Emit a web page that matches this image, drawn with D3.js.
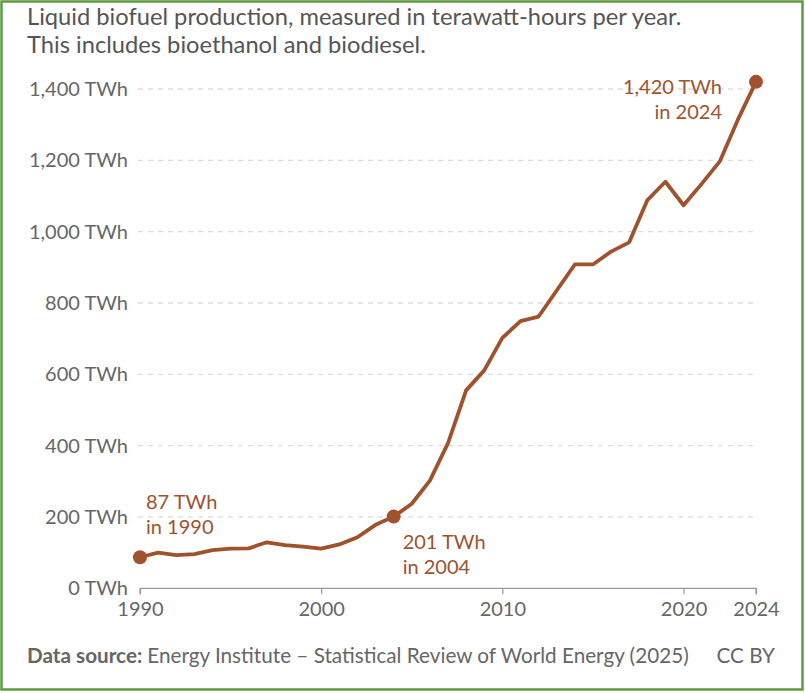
<!DOCTYPE html>
<html><head><meta charset="utf-8">
<script src="https://cdn.jsdelivr.net/npm/d3@7"></script>
<style>
html,body{margin:0;padding:0;background:#fff;}
svg{display:block;font-family:Lato,"Noto Sans",sans-serif;}
</style></head>
<body>
<script>
const years = d3.range(1990, 2025);
const values = [87,100,93,96,107,111,112,129,121,117,111,123,143,178,201,237,302,407,555,611,702,749,762,835,908,908,944,970,1088,1140,1074,1134,1197,1314,1420];
const yTicks = [0,200,400,600,800,1000,1200,1400];
const xTicks = [1990,2000,2010,2020,2024];
const titleLines = ["Liquid biofuel production, measured in terawatt-hours per year.","This includes bioethanol and biodiesel."];
const annotations = [
  {year:1990, lines:["87 TWh","in 1990"]},
  {year:2004, lines:["201 TWh","in 2004"]},
  {year:2024, lines:["1,420 TWh","in 2024"]}
];

const W=805,H=693;
const color="#a0522d";
const svg=d3.select("body").append("svg").attr("width",W).attr("height",H);
svg.append("rect").attr("x",1.5).attr("y",1.5).attr("width",W-4).attr("height",H-5)
  .attr("fill","#fff").attr("stroke","#5e9a42").attr("stroke-width",2.5);

const x=d3.scaleLinear().domain([1990,2024]).range([140,756]);
const y=d3.scaleLinear().domain([0,1400]).range([588.3,89]);

svg.append("g").selectAll("text").data(titleLines).join("text")
  .attr("x",27).attr("y",(d,i)=>25+i*27.5).attr("font-size",23.7).attr("fill","#555").text(d=>d);

// grid
svg.append("g").selectAll("line").data(yTicks.filter(d=>d>0)).join("line")
  .attr("x1",138).attr("x2",758).attr("y1",d=>y(d)).attr("y2",d=>y(d))
  .attr("stroke","#ddd").attr("stroke-width",1.3).attr("stroke-dasharray","5,5");

// y labels
svg.append("g").selectAll("text").data(yTicks).join("text")
  .attr("x",128).attr("y",d=>y(d)+7).attr("text-anchor","end")
  .attr("font-size",20).attr("fill","#666").text(d=>d3.format(",")(d)+" TWh");

// x axis
const xa=svg.append("g").attr("transform",`translate(0,${y(0)})`)
  .call(d3.axisBottom(x).tickValues(xTicks).tickFormat(d3.format("d")).tickSize(6).tickPadding(8));
xa.select(".domain").attr("stroke","#999").attr("stroke-width",1.2).attr("d",`M${x(1990)},6V0H${x(2024)}V6`);
xa.selectAll(".tick line").attr("stroke","#999").attr("stroke-width",1.2);
xa.selectAll(".tick text").attr("font-size",20).attr("fill","#666").attr("font-family","Lato");

// line
const data=years.map((yr,i)=>({year:yr,value:values[i]}));
svg.append("path").datum(data).attr("fill","none").attr("stroke",color).attr("stroke-width",3.8)
  .attr("stroke-linejoin","round")
  .attr("d",d3.line().x(d=>x(d.year)).y(d=>y(d.value)));

const ann=data.filter(d=>annotations.some(a=>a.year===d.year));
svg.append("g").selectAll("circle").data(ann).join("circle")
  .attr("cx",d=>x(d.year)).attr("cy",d=>y(d.value)).attr("r",7).attr("fill",color);

const pos={1990:{dx:6,dy:-48,anchor:"start"},2004:{dx:9,dy:32,anchor:"start"},2024:{dx:-34,dy:12,anchor:"end"}};
annotations.forEach(a=>{
  const v=values[years.indexOf(a.year)];
  const p=pos[a.year];
  svg.append("g").selectAll("text").data(a.lines).join("text")
    .attr("x",x(a.year)+p.dx).attr("y",(d,i)=>y(v)+p.dy+i*25)
    .attr("text-anchor",p.anchor).attr("font-size",20).attr("fill",color).text(d=>d);
});

// footer
const ft=svg.append("text").attr("x",27).attr("y",663).attr("font-size",20.7).attr("fill","#666");
ft.append("tspan").attr("font-weight","bold").text("Data source: ");
ft.append("tspan").text("Energy Institute – Statistical Review of World Energy (2025)");
svg.append("text").attr("x",775).attr("y",663).attr("text-anchor","end").attr("font-size",20.7).attr("fill","#666").text("CC BY");
</script>
</body></html>
